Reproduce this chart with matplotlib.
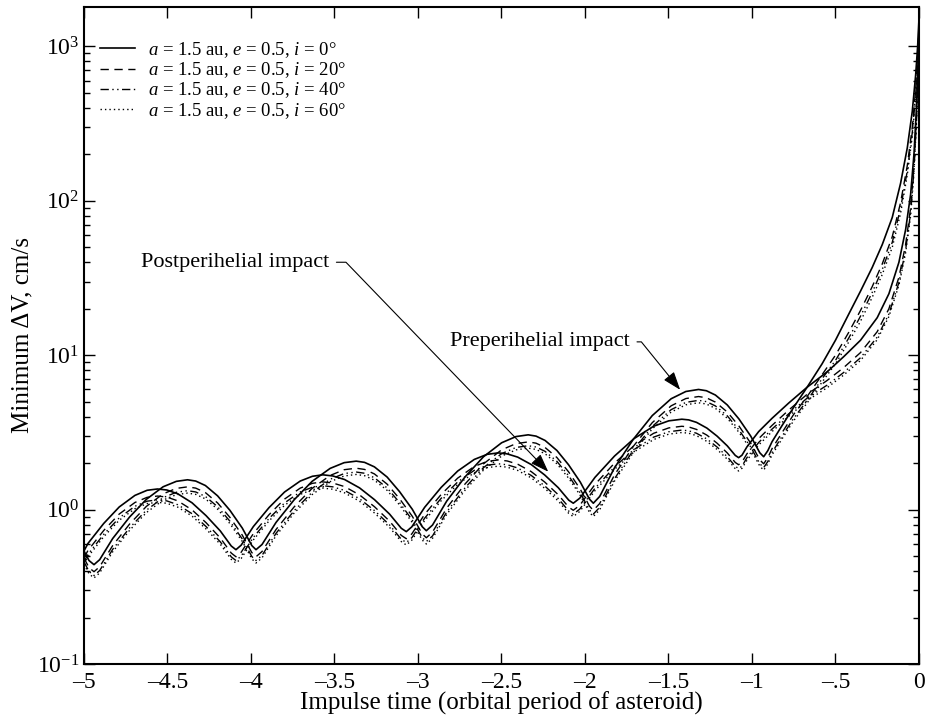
import matplotlib
matplotlib.use("Agg")
import matplotlib.pyplot as plt
from matplotlib.ticker import FixedLocator, FixedFormatter, LogLocator

plt.rcParams['font.family'] = ['Liberation Serif', 'DejaVu Serif']
plt.rcParams['mathtext.fontset'] = 'custom'
plt.rcParams['mathtext.rm'] = 'Liberation Serif'
plt.rcParams['mathtext.it'] = 'Liberation Serif:italic'

# preperihelial impact curves (impulse time in orbital periods, min dV in cm/s)
pre_x = [-5.0, -4.97, -4.94, -4.906, -4.828, -4.727, -4.626, -4.526, -4.447, -4.38,
         -4.331, -4.273, -4.2, -4.126, -4.052, -3.995, -3.97,
         -3.934, -3.85, -3.742, -3.634, -3.526, -3.442, -3.37,
         -3.32, -3.261, -3.185, -3.11, -3.034, -2.975, -2.95,
         -2.913, -2.828, -2.718, -2.608, -2.499, -2.413, -2.34,
         -2.293, -2.239, -2.168, -2.098, -2.028, -1.973, -1.95,
         -1.912, -1.824, -1.711, -1.597, -1.484, -1.396, -1.32,
         -1.273, -1.219, -1.148, -1.078, -1.008, -0.953, -0.93,
         -0.905, -0.88, -0.82, -0.75, -0.67, -0.58, -0.50, -0.42, -0.35,
         -0.28, -0.22, -0.16, -0.11, -0.07, -0.04, -0.02, -0.008, 0.0]
pre_i0 = [0.54, 0.468, 0.44, 0.474, 0.650, 0.895, 1.167, 1.406, 1.524, 1.56,
          1.531, 1.432, 1.228, 0.989, 0.759, 0.585, 0.55,
          0.594, 0.826, 1.156, 1.524, 1.849, 2.014, 2.06,
          2.023, 1.892, 1.626, 1.306, 1.005, 0.776, 0.73,
          0.794, 1.135, 1.629, 2.198, 2.710, 2.972, 3.05,
          2.992, 2.805, 2.415, 1.950, 1.507, 1.169, 1.10,
          1.216, 1.858, 2.851, 4.064, 5.224, 5.821, 6.0,
          5.888, 5.521, 4.764, 3.864, 2.999, 2.333, 2.2,
          2.41, 2.75, 3.5, 4.6, 6.2, 8.8, 12.5, 18.5, 26,
          37, 52, 78, 130, 220, 380, 650, 1000, 1500]
pre_i20 = [0.486, 0.421, 0.396, 0.427, 0.585, 0.806, 1.050, 1.265, 1.372, 1.404,
           1.378, 1.289, 1.105, 0.890, 0.683, 0.527, 0.495,
           0.535, 0.743, 1.040, 1.372, 1.664, 1.813, 1.854,
           1.821, 1.703, 1.463, 1.175, 0.905, 0.698, 0.657,
           0.715, 1.022, 1.466, 1.978, 2.439, 2.675, 2.745,
           2.693, 2.525, 2.174, 1.755, 1.356, 1.052, 0.990,
           1.094, 1.672, 2.566, 3.658, 4.702, 5.239, 5.4,
           5.299, 4.969, 4.288, 3.478, 2.699, 2.100, 1.98,
           2.17, 2.48, 3.15, 4.14, 5.39, 7.48, 10.0, 14.1, 19.5,
           27.8, 39, 58.5, 97.5, 169, 300, 520, 820, 1300]
pre_i40 = [0.459, 0.398, 0.374, 0.403, 0.553, 0.761, 0.992, 1.195, 1.295, 1.326,
           1.301, 1.217, 1.044, 0.841, 0.645, 0.497, 0.468,
           0.505, 0.702, 0.983, 1.295, 1.572, 1.712, 1.751,
           1.720, 1.608, 1.382, 1.110, 0.854, 0.660, 0.621,
           0.675, 0.965, 1.385, 1.868, 2.304, 2.526, 2.593,
           2.543, 2.384, 2.053, 1.658, 1.281, 0.994, 0.935,
           1.034, 1.579, 2.423, 3.454, 4.440, 4.948, 5.1,
           5.005, 4.693, 4.049, 3.284, 2.549, 1.983, 1.87,
           2.05, 2.34, 2.98, 3.91, 5.08, 7.04, 9.25, 12.95, 17.9,
           25.5, 35.9, 53.8, 89.7, 156, 277, 488, 770, 1200]
pre_i60 = [0.443, 0.384, 0.361, 0.389, 0.533, 0.734, 0.957, 1.153, 1.250, 1.279,
           1.255, 1.174, 1.007, 0.811, 0.622, 0.480, 0.451,
           0.487, 0.677, 0.948, 1.250, 1.516, 1.651, 1.689,
           1.659, 1.551, 1.333, 1.071, 0.824, 0.636, 0.599,
           0.651, 0.931, 1.336, 1.802, 2.222, 2.437, 2.501,
           2.453, 2.300, 1.980, 1.599, 1.236, 0.959, 0.902,
           0.997, 1.524, 2.338, 3.332, 4.284, 4.773, 4.92,
           4.828, 4.527, 3.906, 3.168, 2.459, 1.913, 1.80,
           1.98, 2.26, 2.87, 3.77, 4.9, 6.7, 8.8, 12.2, 16.6,
           23.7, 33.3, 49.9, 83, 147, 262, 462, 730, 1150]

# postperihelial impact curves
post_x = [-5.0, -4.976, -4.882, -4.789, -4.695, -4.622, -4.56,
          -4.504, -4.438, -4.353, -4.269, -4.184, -4.118, -4.09,
          -4.059, -3.986, -3.892, -3.799, -3.705, -3.632, -3.57,
          -3.51, -3.44, -3.35, -3.26, -3.17, -3.10, -3.07,
          -3.037, -2.96, -2.861, -2.762, -2.663, -2.586, -2.52,
          -2.466, -2.403, -2.322, -2.241, -2.16, -2.097, -2.07,
          -2.031, -1.94, -1.823, -1.706, -1.589, -1.498, -1.42,
          -1.379, -1.332, -1.27, -1.209, -1.148, -1.10, -1.08,
          -1.06, -1.03, -0.96, -0.88, -0.78, -0.67, -0.55, -0.45, -0.35,
          -0.25, -0.18, -0.12, -0.08, -0.05, -0.03, -0.015, -0.005, 0.0]
post_i0 = [0.54, 0.604, 0.813, 1.040, 1.236, 1.334, 1.36,
           1.340, 1.265, 1.107, 0.914, 0.728, 0.581, 0.55,
           0.588, 0.776, 1.030, 1.300, 1.531, 1.644, 1.68,
           1.652, 1.567, 1.383, 1.159, 0.935, 0.757, 0.72,
           0.773, 1.035, 1.393, 1.778, 2.113, 2.280, 2.33,
           2.296, 2.188, 1.959, 1.675, 1.387, 1.151, 1.10,
           1.186, 1.618, 2.223, 2.884, 3.467, 3.758, 3.85,
           3.811, 3.673, 3.373, 2.992, 2.588, 2.244, 2.17,
           2.25, 2.55, 3.2, 3.9, 4.9, 6.2, 7.8, 9.8, 12.5,
           17.5, 25, 40, 65, 110, 200, 400, 800, 1400]
post_i20 = [0.486, 0.544, 0.732, 0.936, 1.112, 1.201, 1.224,
            1.206, 1.139, 0.996, 0.823, 0.655, 0.523, 0.495,
            0.529, 0.698, 0.927, 1.170, 1.378, 1.480, 1.512,
            1.487, 1.410, 1.245, 1.043, 0.842, 0.681, 0.648,
            0.696, 0.932, 1.254, 1.600, 1.902, 2.052, 2.097,
            2.066, 1.969, 1.763, 1.508, 1.248, 1.036, 0.990,
            1.067, 1.456, 2.001, 2.596, 3.120, 3.382, 3.465,
            3.430, 3.306, 3.036, 2.693, 2.329, 2.020, 1.953,
            2.03, 2.30, 2.88, 3.51, 4.41, 5.58, 6.86, 8.33, 10.4,
            14.2, 20, 32, 52, 90, 170, 348, 720, 1260]
post_i40 = [0.459, 0.513, 0.691, 0.884, 1.051, 1.134, 1.156,
            1.139, 1.075, 0.941, 0.777, 0.619, 0.494, 0.468,
            0.500, 0.660, 0.876, 1.105, 1.301, 1.397, 1.428,
            1.404, 1.332, 1.176, 0.985, 0.795, 0.643, 0.612,
            0.657, 0.880, 1.184, 1.511, 1.796, 1.938, 1.981,
            1.952, 1.860, 1.665, 1.424, 1.179, 0.978, 0.935,
            1.008, 1.375, 1.890, 2.451, 2.947, 3.194, 3.273,
            3.239, 3.122, 2.867, 2.543, 2.200, 1.907, 1.845,
            1.91, 2.17, 2.72, 3.32, 4.17, 5.27, 6.40, 7.74, 9.63,
            13.1, 18.5, 29.6, 48, 84, 158, 328, 680, 1150]
post_i60 = [0.443, 0.495, 0.667, 0.853, 1.014, 1.094, 1.115,
            1.099, 1.037, 0.908, 0.749, 0.597, 0.476, 0.451,
            0.482, 0.636, 0.845, 1.066, 1.255, 1.348, 1.378,
            1.355, 1.285, 1.134, 0.950, 0.767, 0.621, 0.590,
            0.634, 0.849, 1.142, 1.458, 1.733, 1.870, 1.911,
            1.883, 1.794, 1.606, 1.374, 1.137, 0.944, 0.902,
            0.973, 1.327, 1.823, 2.365, 2.843, 3.082, 3.157,
            3.125, 3.012, 2.766, 2.453, 2.122, 1.840, 1.779,
            1.85, 2.09, 2.62, 3.20, 4.02, 5.08, 6.16, 7.45, 9.25,
            12.6, 17.8, 28.4, 46, 80, 152, 316, 656, 1100]

inclinations = [0, 20, 40, 60]
styles = ['-', (0, (6, 4)), (0, (6, 2.5, 1, 2.5, 1, 2.5)), (0, (1, 2.2))]
widths = [1.2, 1.0, 1.0, 1.0]

xticks = [-5, -4.5, -4, -3.5, -3, -2.5, -2, -1.5, -1, -0.5, 0]
xticklabels = ['\u20135', '\u20134.5', '\u20134', '\u20133.5', '\u20133', '\u20132.5',
               '\u20132', '\u20131.5', '\u20131', '\u2013.5', '0']

fig = plt.figure(figsize=(9.29, 7.28), dpi=100)
ax = fig.add_axes([0.0904, 0.0879, 0.8988, 0.9025])

pre_sets = [pre_i0, pre_i20, pre_i40, pre_i60]
post_sets = [post_i0, post_i20, post_i40, post_i60]
for k in range(4):
    ax.plot(pre_x, pre_sets[k], color='black', linestyle=styles[k], linewidth=widths[k],
            label=f'$a$ = 1.5 au, $e$ = 0.5, $i$ = {inclinations[k]}\u00b0')
    ax.plot(post_x, post_sets[k], color='black', linestyle=styles[k], linewidth=widths[k])

ax.set_yscale('log')
ax.set_xlim(-5, 0)
ax.set_ylim(0.1, 1800)
ax.xaxis.set_major_locator(FixedLocator(xticks))
ax.xaxis.set_major_formatter(FixedFormatter(xticklabels))
ax.yaxis.set_major_locator(LogLocator(base=10, numticks=10))
ax.yaxis.set_minor_locator(LogLocator(base=10, subs=range(2, 10), numticks=10))
ax.tick_params(which='both', direction='in', top=True, right=True, labelsize=17, width=1)
ax.tick_params(which='major', length=8)
ax.tick_params(which='minor', length=4)
ax.tick_params(axis='x', pad=6)
for s in ax.spines.values():
    s.set_linewidth(1.5)

ax.set_xlabel('Impulse time (orbital period of asteroid)', fontsize=18, labelpad=-1)
ax.set_ylabel('Minimum \u0394V, cm/s', fontsize=18, labelpad=2)

ax.legend(loc='upper left', bbox_to_anchor=(0.019, 0.950), frameon=False, fontsize=13.5,
          handlelength=1.87, handletextpad=0.7, labelspacing=0.03, borderaxespad=0, borderpad=0)

arrow = dict(arrowstyle='-|>,head_length=0.7,head_width=0.25', color='black', lw=0.8,
             mutation_scale=16, relpos=(1, 0.5), shrinkA=3, shrinkB=0)
ax.annotate('Postperihelial impact', xy=(-2.22, 1.76), xytext=(-3.53, 40),
            ha='right', va='center', fontsize=16,
            arrowprops=dict(arrow, connectionstyle='angle,angleA=0,angleB=-46,rad=0'))
ax.annotate('Preperihelial impact', xy=(-1.43, 5.97), xytext=(-1.73, 12.2),
            ha='right', va='center', fontsize=16,
            arrowprops=dict(arrow, connectionstyle='angle,angleA=0,angleB=-51,rad=0'))

fig.savefig('out.png', dpi=100)
